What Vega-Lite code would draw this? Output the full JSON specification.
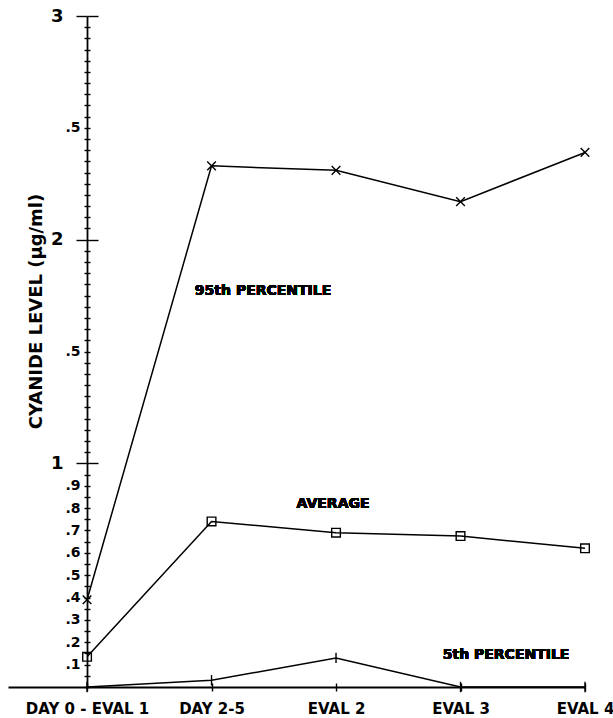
{
  "$schema": "https://vega.github.io/schema/vega-lite/v6.json",
  "width": 577,
  "height": 671,
  "autosize": {"type": "none"},
  "padding": {"left": 8, "top": 16, "right": 28, "bottom": 31},
  "background": "white",
  "config": {
    "view": {"stroke": null},
    "font": "DejaVu Sans",
    "axis": {"domainColor": "black", "tickColor": "black", "labelColor": "black", "titleColor": "black", "grid": false}
  },
  "data": {
    "values": [
      {"stage": "DAY 0 - EVAL 1", "t": 0, "series": "95th PERCENTILE", "cn": 0.39},
      {"stage": "DAY 2-5", "t": 1, "series": "95th PERCENTILE", "cn": 2.33},
      {"stage": "EVAL 2", "t": 2, "series": "95th PERCENTILE", "cn": 2.31},
      {"stage": "EVAL 3", "t": 3, "series": "95th PERCENTILE", "cn": 2.17},
      {"stage": "EVAL 4", "t": 4, "series": "95th PERCENTILE", "cn": 2.39},
      {"stage": "DAY 0 - EVAL 1", "t": 0, "series": "AVERAGE", "cn": 0.135},
      {"stage": "DAY 2-5", "t": 1, "series": "AVERAGE", "cn": 0.74},
      {"stage": "EVAL 2", "t": 2, "series": "AVERAGE", "cn": 0.69},
      {"stage": "EVAL 3", "t": 3, "series": "AVERAGE", "cn": 0.675},
      {"stage": "EVAL 4", "t": 4, "series": "AVERAGE", "cn": 0.62},
      {"stage": "DAY 0 - EVAL 1", "t": 0, "series": "5th PERCENTILE", "cn": 0},
      {"stage": "DAY 2-5", "t": 1, "series": "5th PERCENTILE", "cn": 0.03},
      {"stage": "EVAL 2", "t": 2, "series": "5th PERCENTILE", "cn": 0.13},
      {"stage": "EVAL 3", "t": 3, "series": "5th PERCENTILE", "cn": 0},
      {"stage": "EVAL 4", "t": 4, "series": "5th PERCENTILE", "cn": 0}
    ]
  },
  "resolve": {"axis": {"x": "independent", "y": "independent"}},
  "layer": [
    {
      "mark": {"type": "line", "color": "black", "strokeWidth": 1.5},
      "encoding": {
        "detail": {"field": "series"},
        "x": {
          "field": "t", "type": "quantitative",
          "scale": {"domain": [-0.635, 4], "nice": false, "zero": false},
          "axis": {
            "orient": "bottom", "title": null, "values": [0, 1, 2, 3, 4],
            "tickSize": 4, "tickWidth": 1.4, "domainWidth": 1.8,
            "labelExpr": "['DAY 0 - EVAL 1','DAY 2-5','EVAL 2','EVAL 3','EVAL 4'][datum.value]",
            "labelFont": "DejaVu Sans", "labelFontWeight": "bold", "labelFontSize": 15,
            "labelPadding": 10, "labelFlush": false, "labelOverlap": false
          }
        },
        "y": {
          "field": "cn", "type": "quantitative",
          "scale": {"domain": [0, 3], "nice": false},
          "axis": {
            "orient": "left", "offset": -79,
            "values": [0,0.05,0.1,0.15,0.2,0.25,0.3,0.35,0.4,0.45,0.5,0.55,0.6,0.65,0.7,0.75,0.8,0.85,0.9,0.95,1,1.05,1.1,1.15,1.2,1.25,1.3,1.35,1.4,1.45,1.5,1.55,1.6,1.65,1.7,1.75,1.8,1.85,1.9,1.95,2,2.05,2.1,2.15,2.2,2.25,2.3,2.35,2.4,2.45,2.5,2.55,2.6,2.65,2.7,2.75,2.8,2.85,2.9,2.95,3],
            "domainWidth": 1.8, "tickWidth": 1.4,
            "tickSize": {"condition": {"test": "datum.value % 1 === 0 && datum.value > 0", "value": 11}, "value": 3},
            "labelPadding": {"condition": {"test": "datum.value % 1 === 0 && datum.value > 0", "value": 13}, "value": 4},
            "labelFontSize": {"condition": {"test": "datum.value % 1 === 0 && datum.value > 0", "value": 18}, "value": 14},
            "labelExpr": "(datum.value % 1 === 0 && datum.value > 0) ? toString(datum.value) : (abs(datum.value - 1.5) < 1e-6 || abs(datum.value - 2.5) < 1e-6) ? '.5' : (datum.value > 0.01 && datum.value < 0.99 && abs(datum.value * 10 - round(datum.value * 10)) < 1e-6) ? '.' + toString(round(datum.value * 10)) : ''",
            "labelFont": "DejaVu Sans", "labelFontWeight": "bold", "labelBaseline": "middle",
            "labelOverlap": false, "labelFlush": false,
            "title": "CYANIDE LEVEL (µg/ml)",
            "titleFont": "DejaVu Sans", "titleFontWeight": "bold", "titleFontSize": 18,
            "titleAngle": -90, "titleX": -51, "titleY": 295,
            "titleAlign": "center", "titleBaseline": "middle"
          }
        }
      }
    },
    {
      "mark": {"type": "point", "filled": false, "stroke": "black", "strokeWidth": 1.4, "size": 75, "opacity": 1},
      "encoding": {
        "x": {
          "field": "t", "type": "quantitative",
          "axis": {"orient": "top", "offset": -671, "values": [0, 1, 2, 3, 4], "tickSize": 4, "tickWidth": 1.4, "domain": false, "labels": false, "title": null}
        },
        "y": {
          "field": "cn", "type": "quantitative",
          "axis": {
            "orient": "right", "offset": -498, "domain": false, "labels": false, "title": null, "tickWidth": 1.4,
            "values": [0,0.05,0.1,0.15,0.2,0.25,0.3,0.35,0.4,0.45,0.5,0.55,0.6,0.65,0.7,0.75,0.8,0.85,0.9,0.95,1,1.05,1.1,1.15,1.2,1.25,1.3,1.35,1.4,1.45,1.5,1.55,1.6,1.65,1.7,1.75,1.8,1.85,1.9,1.95,2,2.05,2.1,2.15,2.2,2.25,2.3,2.35,2.4,2.45,2.5,2.55,2.6,2.65,2.7,2.75,2.8,2.85,2.9,2.95,3],
            "tickSize": {"condition": {"test": "datum.value % 1 === 0 && datum.value > 0", "value": 11}, "value": 3}
          }
        },
        "shape": {
          "field": "series",
          "scale": {"domain": ["95th PERCENTILE", "AVERAGE", "5th PERCENTILE"], "range": ["M-1,-1L1,1M-1,1L1,-1", "square", "M0,-1.2L0,1.2"]},
          "legend": null
        }
      }
    },
    {
      "mark": {"type": "text", "font": "DejaVu Sans", "fontWeight": "bold", "fontSize": 14, "align": "center", "baseline": "middle", "color": "black"},
      "encoding": {
        "x": {"datum": 1.414, "type": "quantitative", "axis": null},
        "y": {"datum": 1.77, "type": "quantitative", "axis": null},
        "text": {"value": "95th PERCENTILE"}
      }
    },
    {
      "mark": {"type": "text", "font": "DejaVu Sans", "fontWeight": "bold", "fontSize": 14, "align": "center", "baseline": "middle", "color": "black"},
      "encoding": {
        "x": {"datum": 1.976, "type": "quantitative", "axis": null},
        "y": {"datum": 0.82, "type": "quantitative", "axis": null},
        "text": {"value": "AVERAGE"}
      }
    },
    {
      "mark": {"type": "text", "font": "DejaVu Sans", "fontWeight": "bold", "fontSize": 14, "align": "center", "baseline": "middle", "color": "black"},
      "encoding": {
        "x": {"datum": 3.366, "type": "quantitative", "axis": null},
        "y": {"datum": 0.143, "type": "quantitative", "axis": null},
        "text": {"value": "5th PERCENTILE"}
      }
    }
  ]
}
